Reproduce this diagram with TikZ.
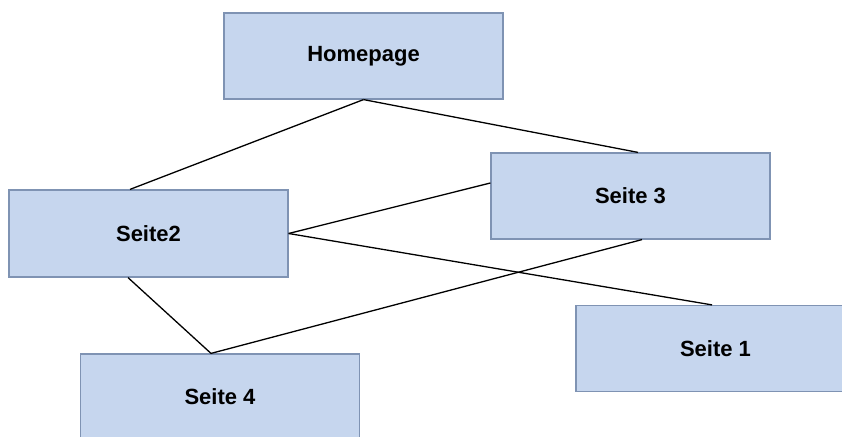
\documentclass[tikz,border=0pt]{standalone}
\usepackage{fontspec}
\setmainfont{Liberation Sans}
\begin{document}
\begin{tikzpicture}[x=1pt,y=1pt,
  pagebox/.style={draw=boxborder, fill=boxfill, line width=1.2pt, minimum width=279pt, minimum height=86pt, inner sep=0pt, font=\bfseries\fontsize{22}{26}\selectfont},
  link/.style={draw=black, line width=1.3pt}]
\definecolor{boxfill}{HTML}{C6D6EE}
\definecolor{boxborder}{HTML}{7F93B3}
\useasboundingbox (0,0) rectangle (842,436);
\clip (0,0) rectangle (842,436);
\node[pagebox] (home) at (363.5,380) {Homepage};
\node[pagebox, minimum height=87pt] (s2) at (148.5,202.5) {Seite2};
\node[pagebox] (s3) at (630.5,240) {Seite 3};
\node[pagebox] (s1) at (715.5,87.5) {Seite 1};
\node[pagebox] (s4) at (220,39) {Seite 4};
\draw[link] (home.south) -- ([xshift=-18.5pt]s2.north);
\draw[link] (home.south) -- ([xshift=7.5pt]s3.north);
\draw[link] (s2.east) -- ([yshift=13pt]s3.west);
\draw[link] (s2.east) -- ([xshift=-3.5pt]s1.north);
\draw[link] ([xshift=-20.5pt]s2.south) -- ([xshift=-9pt]s4.north);
\draw[link] ([xshift=11.5pt]s3.south) -- ([xshift=-9pt]s4.north);
\end{tikzpicture}
\end{document}
